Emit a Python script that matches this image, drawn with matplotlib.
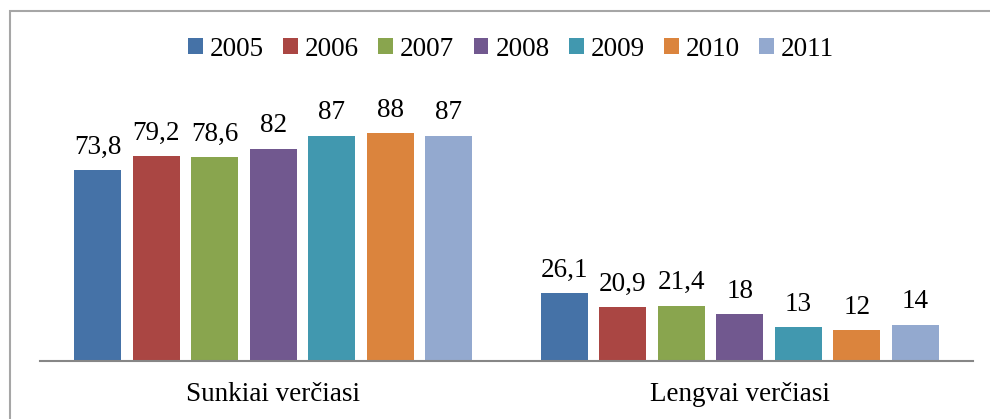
import matplotlib.pyplot as plt
import numpy as np
from matplotlib.patches import Rectangle

plt.rcParams['font.family'] = ['Liberation Serif', 'DejaVu Serif']
plt.rcParams['font.size'] = 19.5

categories = ['Sunkiai verčiasi', 'Lengvai verčiasi']
years = ['2005', '2006', '2007', '2008', '2009', '2010', '2011']
values = {
    '2005': [73.8, 26.1],
    '2006': [79.2, 20.9],
    '2007': [78.6, 21.4],
    '2008': [82, 18],
    '2009': [87, 13],
    '2010': [88, 12],
    '2011': [87, 14],
}
labels = {
    '2005': ['73,8', '26,1'],
    '2006': ['79,2', '20,9'],
    '2007': ['78,6', '21,4'],
    '2008': ['82', '18'],
    '2009': ['87', '13'],
    '2010': ['88', '12'],
    '2011': ['87', '14'],
}
colors = ['#4572A7', '#AA4643', '#89A54E', '#71588F', '#4198AF', '#DB843D', '#93A9CF']

fig = plt.figure(figsize=(9.9, 4.19), dpi=100)
ax = fig.add_axes([40 / 990, 58 / 419, 933 / 990, 259 / 419])

x = np.arange(len(categories))
step = 0.1254
width = 0.1008
for i, yr in enumerate(years):
    pos = x + (i - 3) * step
    bars = ax.bar(pos, values[yr], width=width, color=colors[i], label=yr)
    for rect, lab in zip(bars, labels[yr]):
        ax.text(rect.get_x() + rect.get_width() / 2, rect.get_height() + 4, lab,
                ha='center', va='bottom')

ax.set_xlim(-0.5, 1.5)
ax.set_ylim(0, 100)
ax.set_yticks([])
ax.set_xticks(x)
ax.set_xticklabels(categories)
ax.tick_params(axis='x', length=0, pad=15)
for s in ['top', 'right', 'left']:
    ax.spines[s].set_visible(False)
ax.spines['bottom'].set_color('#868686')
ax.spines['bottom'].set_linewidth(1.5)

leg = fig.legend(loc='center', bbox_to_anchor=(511 / 990, 1 - 49 / 419), ncol=7,
                 frameon=False, handlelength=0.55, handleheight=0.55,
                 handletextpad=0.25, columnspacing=0.72)

# outer frame (only top and left visible in the crop)
fig.patches.append(Rectangle((10 / 990, -0.1), 1.1, 1 - 11 / 419 + 0.1,
                             transform=fig.transFigure, fill=False,
                             edgecolor='#A6A6A6', linewidth=1.5))

plt.savefig('out.png')
